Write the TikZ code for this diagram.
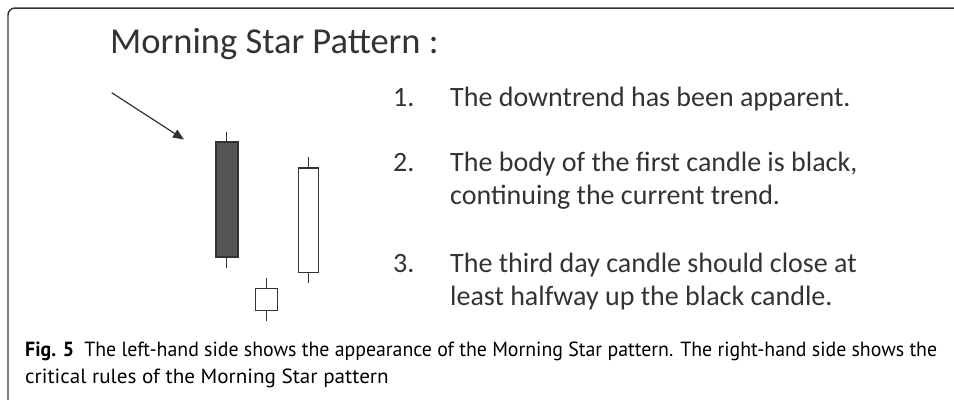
\documentclass[tikz,border=0pt]{standalone}
\usepackage{fontspec}
\setmainfont{Carlito}
\newfontfamily\capfontA[FakeStretch=0.968]{PT Sans}
\newfontfamily\capfontB[FakeStretch=1.03]{PT Sans}
\usetikzlibrary{arrows.meta}
\definecolor{txtcol}{HTML}{333333}
\definecolor{bodycol}{HTML}{555555}
\tikzset{
  candleline/.style={draw=txtcol, line width=1.3pt},
  listtext/.style={anchor=base west, inner sep=0pt, text=txtcol, font=\fontsize{28pt}{33pt}\selectfont},
  captext/.style={anchor=base west, inner sep=0pt, text=black},
}
\begin{document}
\begin{tikzpicture}[x=1pt,y=-1pt]
\useasboundingbox (0,0) rectangle (954,400);
% frame
\draw[draw=txtcol, line width=1.5pt] (954,8) -- (15,8) arc[start angle=270,end angle=180,radius=7];
\draw[draw=gray, line width=1.2pt] (8,15) -- (8,400);
% title
\node[anchor=base west, inner sep=0pt, text=txtcol, font=\fontsize{36.5pt}{40pt}\selectfont] (title) at (110,53) {Morning Star Pattern :};
% arrow
\coordinate (a1) at (111.7,92.7);
\coordinate (a2) at (184,139.5);
\draw[draw=txtcol, line width=1.2pt, -{Triangle[length=11pt,width=9pt]}] (a1) -- (a2);
% candle 1 (black)
\draw[candleline] (226.7,131.7) -- (226.7,142);
\draw[candleline] (226.7,257) -- (226.7,267.7);
\draw[candleline, fill=bodycol] (216,142) rectangle (238,257);
% candle 2 (small)
\draw[candleline] (266.3,278.3) -- (266.3,288.7);
\draw[candleline] (266.3,310.7) -- (266.3,320.7);
\draw[candleline, fill=white] (255.3,288.7) rectangle (277.3,310.7);
% candle 3 (white)
\draw[candleline] (308.5,157.3) -- (308.5,168);
\draw[candleline] (308.5,272.7) -- (308.5,282.7);
\draw[candleline, fill=white] (298.3,168) rectangle (318.7,272.7);
% list
\node[listtext] (n1) at (393,106) {1.};
\node[listtext] (t1) at (450,106) {The downtrend has been apparent.};
\node[listtext] (n2) at (393,171) {2.};
\node[listtext] (t2a) at (450,171) {The body of the first candle is black,};
\node[listtext] (t2b) at (450,204) {continuing the current trend.};
\node[listtext] (n3) at (393,272) {3.};
\node[listtext] (t3a) at (450,272) {The third day candle should close at};
\node[listtext] (t3b) at (450,305) {least halfway up the black candle.};
% caption
\node[captext, font=\capfontA\fontsize{20.5pt}{24pt}\selectfont] (c1) at (25,356) {\textbf{Fig. 5}\hspace{0.5em}The left-hand side shows the appearance of the Morning Star pattern. The right-hand side shows the};
\node[captext, font=\capfontB\fontsize{20.5pt}{24pt}\selectfont] (c2) at (25,383) {critical rules of the Morning Star pattern};
\end{tikzpicture}
\end{document}
